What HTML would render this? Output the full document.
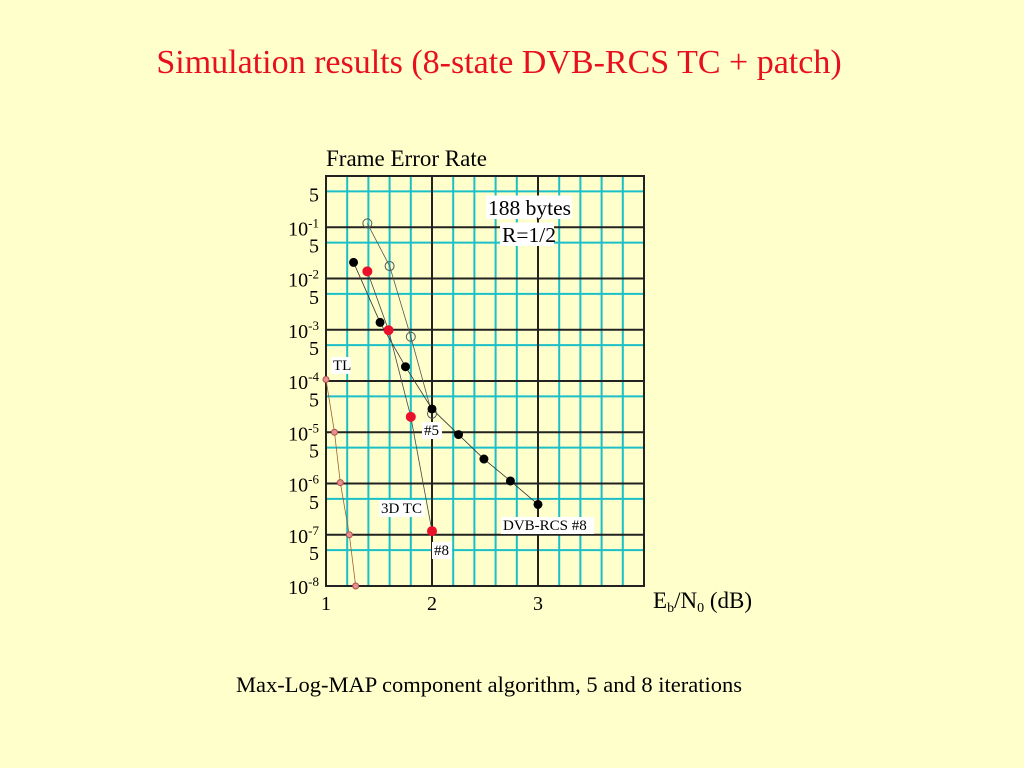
<!DOCTYPE html>
<html><head><meta charset="utf-8"><style>
body{margin:0;background:#ffffcc;}
svg{display:block;font-family:"Liberation Serif",serif;}
</style></head><body>
<svg id="c" width="1024" height="768">
<rect width="1024" height="768" fill="#ffffcc"/>
<text x="499" y="73" text-anchor="middle" font-size="34" fill="#e8101e">Simulation results (8-state DVB-RCS TC + patch)</text>
<text x="326" y="166" font-size="23">Frame Error Rate</text>
<text x="653" y="608" font-size="23">E<tspan font-size="14" dy="4">b</tspan><tspan dy="-4">/N</tspan><tspan font-size="14" dy="4">0</tspan><tspan dy="-4"> (dB)</tspan></text>
<text x="489" y="692" text-anchor="middle" font-size="22.5">Max-Log-MAP component algorithm, 5 and 8 iterations</text>
<g id="grid"></g><g id="lines"></g><g id="pts"></g><g id="labels"></g>
</svg>
<script>
const xTicks=[1,2,3];
const decades=[-1,-2,-3,-4,-5,-6,-7,-8];
const open5x=[1.39,1.60,1.80,2.0];
const open5y=[0.119,0.0175,7.3e-4,2.3e-5];
const dvbX=[1.26,1.51,1.75,2.0,2.25,2.49,2.74,3.0];
const dvbY=[0.0206,1.39e-3,1.9e-4,2.85e-5,9e-6,3e-6,1.12e-6,3.9e-7];
const tcX=[1.39,1.59,1.80,2.0];
const tcY=[0.0138,9.8e-4,2.0e-5,1.18e-7];
const tlX=[1.0,1.08,1.135,1.22,1.28];
const tlY=[1.07e-4,1.0e-5,1.04e-6,1e-7,1e-8];
const X0=326,PX=106,Y0=176,PD=51.25;
const sx=v=>X0+(v-1)*PX;
const sy=v=>Y0-Math.log10(v)*PD;
const NS="http://www.w3.org/2000/svg";
function mk(t,a,p){const e=document.createElementNS(NS,t);for(const k in a)e.setAttribute(k,a[k]);document.getElementById(p).appendChild(e);return e;}
for(let i=1;i<15;i++){if(i%5==0)continue;const x=sx(1+i*0.2);
const l=mk('line',{x1:x,x2:x,y1:sy(1),y2:sy(1e-8),stroke:'#1bbfc8','stroke-width':2},'grid');
}
for(let d=0;d>=-7;d--){const y=sy(5*Math.pow(10,d-1));
const l=mk('line',{x1:sx(1),x2:sx(4),y1:y,y2:y,stroke:'#1bbfc8','stroke-width':2},'grid');

const t=mk('text',{x:319,y:y+10,'text-anchor':'end','font-size':20},'grid');t.textContent='5';
}
decades.forEach(d=>{const y=sy(Math.pow(10,d));
const l=mk('line',{x1:sx(1),x2:sx(4),y1:y,y2:y,stroke:'#222','stroke-width':2},'grid');

const t=mk('text',{x:319,y:y+8,'text-anchor':'end','font-size':20},'grid');
t.innerHTML='10<tspan font-size="13" dy="-8">'+d+'</tspan>';
});
xTicks.forEach(v=>{const x=sx(v);
const l=mk('line',{x1:x,x2:x,y1:sy(1),y2:sy(1e-8),stroke:'#222','stroke-width':2},'grid');

const t=mk('text',{x:x,y:610,'text-anchor':'middle','font-size':20},'grid');t.textContent=v;
});
const fr=mk('rect',{x:sx(1),y:sy(1),width:3*PX,height:8*PD,fill:'none',stroke:'#222','stroke-width':2},'grid');

function series(xs,ys,name,r,fill,stroke,lc){
const p=mk('polyline',{points:xs.map((x,i)=>sx(x)+','+sy(ys[i])).join(' '),fill:'none',stroke:lc,'stroke-width':0.8},'lines');

xs.forEach((x,i)=>{const c=mk('circle',{cx:sx(x),cy:sy(ys[i]),r:r,fill:fill,stroke:stroke,'stroke-width':1},'pts');
});}
series(open5x,open5y,'dvb-rcs-5-iter',4.5,'none','#555','#555');
series(dvbX,dvbY,'dvb-rcs-8-iter',4,'#000','#000','#333');
series(tcX,tcY,'3d-tc',4.5,'#e8102a','#e8102a','#444');
series(tlX,tlY,'tl-limit',3,'#e89090','#b05050','#a06030');
function lab(x,y,txt,fs,name,w){
const r=mk('rect',{x:x-2,y:y-fs+2,width:w,height:fs+2,fill:'#fff'},'labels');

const t=mk('text',{x:x,y:y,'font-size':fs},'labels');t.textContent=txt;
}
lab(488,215,'188 bytes',21.5,'block-size-label',86);
lab(502,242,'R=1/2',21.5,'rate-label',54);
lab(333,370,'TL',15,'tl-label',20);
lab(424,435,'#5',15,'iter5-label',20);
lab(381,513,'3D TC',15,'3d-tc-label',46);
lab(503,530,'DVB-RCS #8',15,'dvb-rcs-label',93);
lab(434,555,'#8',15,'iter8-label',20);
</script>
</body></html>
